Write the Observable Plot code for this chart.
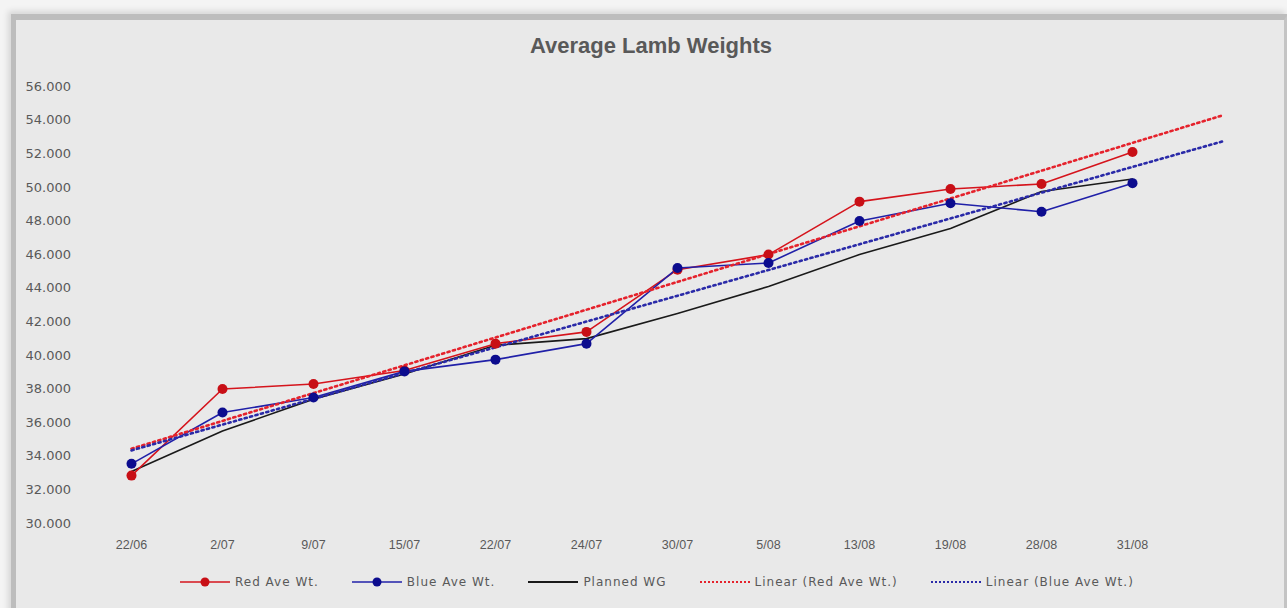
<!DOCTYPE html>
<html>
<head>
<meta charset="utf-8">
<script src="https://cdn.jsdelivr.net/npm/d3@7"></script>
<script src="https://cdn.jsdelivr.net/npm/@observablehq/plot@0.6"></script>
<style>
  html, body { margin: 0; padding: 0; }
  body { width: 1287px; height: 608px; background: #f4f4f4; position: relative; overflow: hidden; }
  #frame {
    position: absolute; left: 11px; top: 14px; width: 1268px; height: 600px;
    background: #e9e9e9;
    border-left: 5px solid #bdbdbd; border-top: 6px solid #bdbdbd; border-right: 4px solid #c4c4c4;
    box-shadow: -3px -3px 6px rgba(0,0,0,0.12);
  }
  #title {
    position: absolute; left: 0; width: 1302px; top: 33px; text-align: center;
    font: bold 22px "Liberation Sans", Arial, sans-serif; color: #595959;
  }
  #chart { position: absolute; left: 0; top: 0; }
  #legend {
    position: absolute; top: 573px; left: 180px; height: 18px;
    display: flex; align-items: center;
    font: 12px "DejaVu Sans", sans-serif; color: #595959; letter-spacing: 1.0px;
  }
  .item { display: flex; align-items: center; margin-right: 33px; }
  .item svg { margin-right: 5px; }
</style>
</head>
<body>
<div id="frame"></div>
<div id="title">Average Lamb Weights</div>
<div id="chart"></div>
<div id="legend"></div>
<script>
// ---- data ----
const dates = ["22/06","2/07","9/07","15/07","22/07","24/07","30/07","5/08","13/08","19/08","28/08","31/08"];
const redAve = [32.85, 38.0, 38.3, 39.1, 40.7, 41.4, 45.1, 46.0, 49.15, 49.9, 50.2, 52.1];
const blueAve = [33.55, 36.6, 37.5, 39.05, 39.75, 40.7, 45.2, 45.5, 48.0, 49.05, 48.55, 50.25];
const plannedWG = [33.1, 35.5, 37.4, 38.9, 40.6, 41.0, 42.5, 44.1, 46.0, 47.55, 49.75, 50.5];
// linear trendlines: value at the first date and one period past the last (forecast forward 1)
const trendRed = [34.45, 54.3];
const trendBlue = [34.35, 52.75];
const forecastPeriods = 1;
const yTicks = [30, 32, 34, 36, 38, 40, 42, 44, 46, 48, 50, 52, 54, 56];
const seriesNames = ["Red Ave Wt.", "Blue Ave Wt.", "Planned WG", "Linear (Red Ave Wt.)", "Linear (Blue Ave Wt.)"];

const C = { red: "#d5141c", redDot: "#c80f16", blue: "#2020a8", blueDot: "#0c0c8e", black: "#1a1a1a", redTrend: "#e5222c", blueTrend: "#2a2aa8" };

const rows = arr => arr.map((v, i) => ({ i, v }));
const lastIdx = dates.length - 1 + forecastPeriods;
const trendRows = arr => [{ i: 0, v: arr[0] }, { i: lastIdx, v: arr[1] }];

const plot = Plot.plot({
  width: 1287,
  height: 560,
  marginLeft: 85.5,
  marginRight: 18.5,
  marginTop: 86,
  marginBottom: 37,
  style: { background: "transparent", color: "#595959" },
  x: { type: "linear", domain: [-0.5, dates.length + forecastPeriods - 0.5] },
  y: { domain: [30, 56] },
  marks: [
    Plot.axisY({ ticks: yTicks, tickFormat: d3.format(".3f"), tickSize: 0, tickPadding: 15,
      fontSize: 13, fontFamily: "DejaVu Sans", label: null }),
    Plot.axisX({ ticks: d3.range(dates.length), tickFormat: i => dates[i], tickSize: 0, tickPadding: 17,
      fontSize: 12.5, fontFamily: "Liberation Sans", label: null }),
    Plot.line(rows(plannedWG), { x: "i", y: "v", stroke: C.black, strokeWidth: 1.6 }),
    Plot.line(rows(redAve), { x: "i", y: "v", stroke: C.red, strokeWidth: 1.6 }),
    Plot.line(rows(blueAve), { x: "i", y: "v", stroke: C.blue, strokeWidth: 1.6 }),
    Plot.line(trendRows(trendRed), { x: "i", y: "v", stroke: C.redTrend, strokeWidth: 2.6, strokeDasharray: "2.2 3.4" }),
    Plot.line(trendRows(trendBlue), { x: "i", y: "v", stroke: C.blueTrend, strokeWidth: 2.6, strokeDasharray: "2.2 3.4" }),
    Plot.dot(rows(redAve), { x: "i", y: "v", r: 5, fill: C.redDot }),
    Plot.dot(rows(blueAve), { x: "i", y: "v", r: 5, fill: C.blueDot })
  ]
});
document.getElementById("chart").appendChild(plot);

// legend
const legendSym = [
  { stroke: C.red, dot: C.redDot, dash: null, w: 1.6 },
  { stroke: C.blue, dot: C.blueDot, dash: null, w: 1.6 },
  { stroke: C.black, dot: null, dash: null, w: 1.8 },
  { stroke: C.redTrend, dot: null, dash: "2 2", w: 2.2 },
  { stroke: C.blueTrend, dot: null, dash: "2 2", w: 2.2 }
];
const legend = d3.select("#legend");
seriesNames.forEach((name, k) => {
  const s = legendSym[k];
  const it = legend.append("div").attr("class", "item");
  const svg = it.append("svg").attr("width", 50).attr("height", 14);
  svg.append("line").attr("x1", 0).attr("x2", 50).attr("y1", 7).attr("y2", 7)
    .attr("stroke", s.stroke).attr("stroke-width", s.w).attr("stroke-dasharray", s.dash);
  if (s.dot) svg.append("circle").attr("cx", 25).attr("cy", 7).attr("r", 4.5).attr("fill", s.dot);
  it.append("span").text(name);
});
</script>
</body>
</html>
